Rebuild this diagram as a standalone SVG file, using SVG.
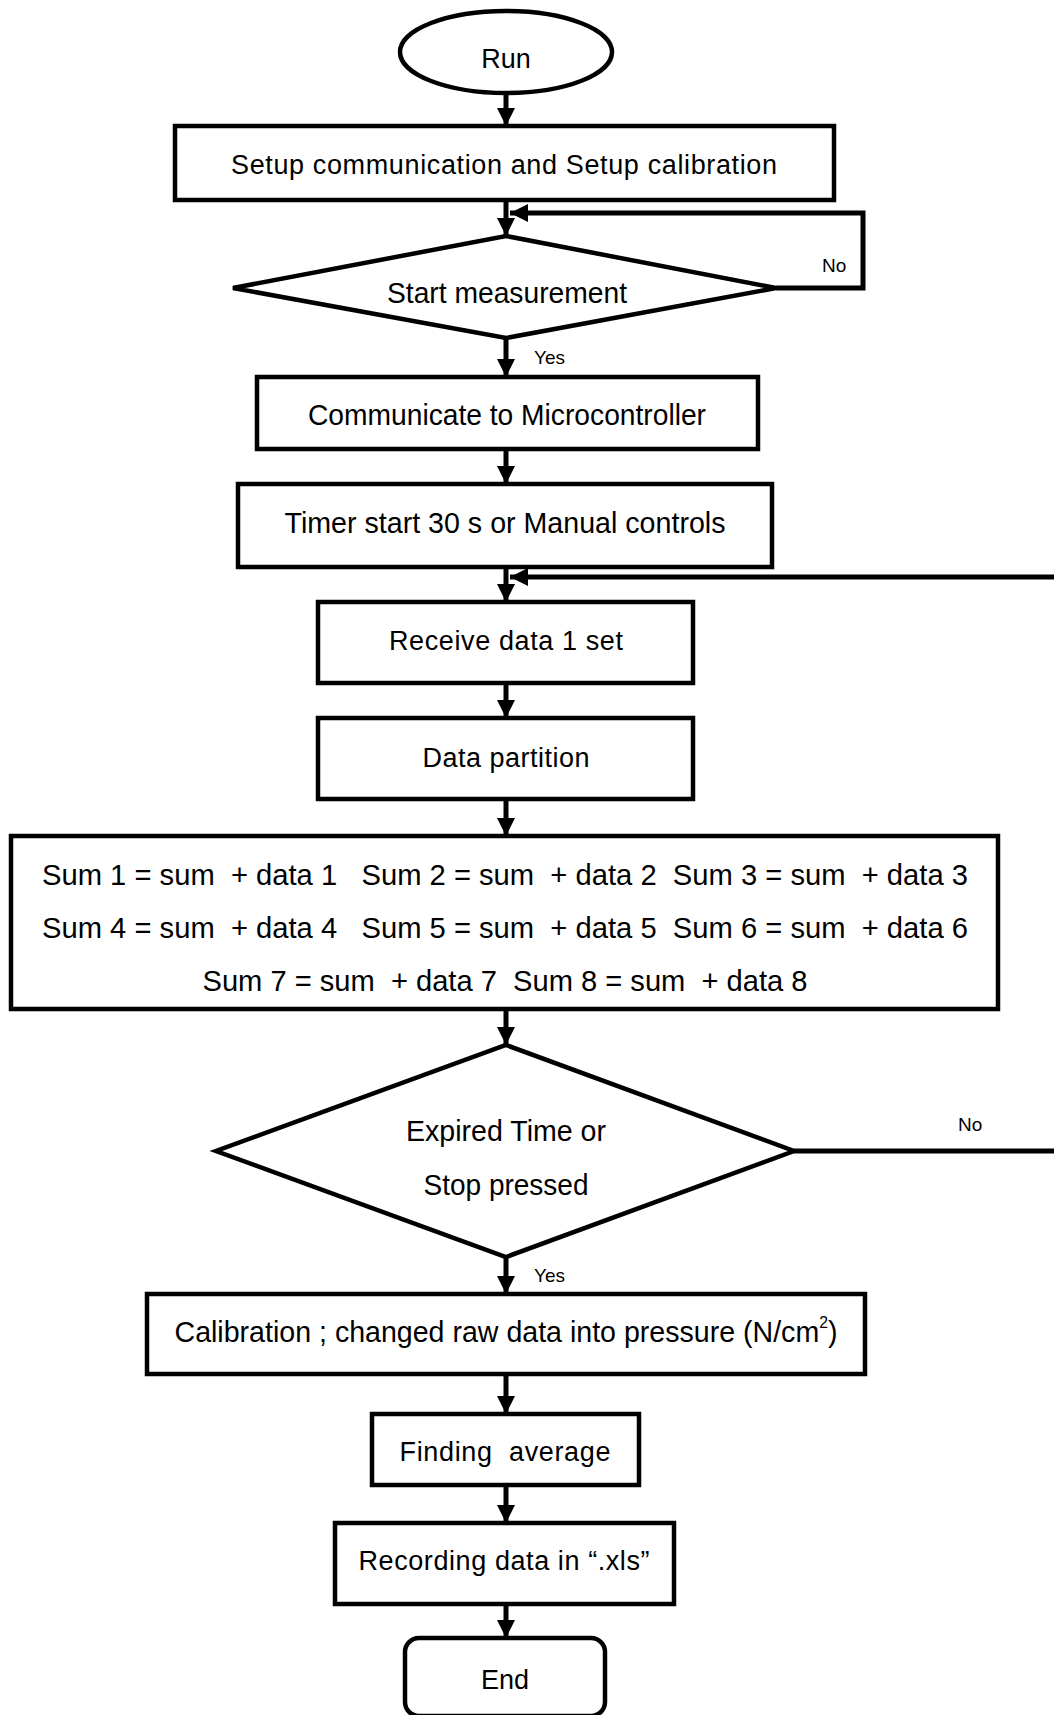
<svg xmlns="http://www.w3.org/2000/svg" width="1054" height="1715" viewBox="0 0 1054 1715">
  <style>
    .shape { fill: #fff; stroke: #000; stroke-width: 4.5; }
    .wire { fill: none; stroke: #000; stroke-width: 5; }
    .t { font-family: "Liberation Sans", Arial, sans-serif; font-size: 27px; fill: #000; text-anchor: middle; }
    .n { font-family: "Liberation Sans Narrow", "Arial Narrow", "Liberation Sans", sans-serif; font-stretch: condensed; font-size: 29px; fill: #000; text-anchor: middle; }
    .lbl { font-family: "Liberation Sans Narrow", "Arial Narrow", "Liberation Sans", sans-serif; font-stretch: condensed; font-size: 19px; fill: #000; }
  </style>
  <defs>
    <marker id="head" markerUnits="userSpaceOnUse" markerWidth="18" markerHeight="18" viewBox="0 0 18 18" refX="18" refY="9" orient="auto">
      <path d="M0,0 L18,9 L0,18 Z" fill="#000"/>
    </marker>
  </defs>
  <rect width="1054" height="1715" fill="#fff"/>

  <!-- connectors -->
  <g id="connectors">
    <line class="wire" x1="506" y1="92" x2="506" y2="126" marker-end="url(#head)"/>
    <line class="wire" x1="506" y1="200" x2="506" y2="236" marker-end="url(#head)"/>
    <polyline class="wire" points="776,288 863,288 863,213 510,213" marker-end="url(#head)"/>
    <line class="wire" x1="506" y1="338" x2="506" y2="377" marker-end="url(#head)"/>
    <line class="wire" x1="506" y1="449" x2="506" y2="484" marker-end="url(#head)"/>
    <line class="wire" x1="506" y1="567" x2="506" y2="602" marker-end="url(#head)"/>
    <line class="wire" x1="1054" y1="577" x2="510" y2="577" marker-end="url(#head)"/>
    <line class="wire" x1="506" y1="683" x2="506" y2="718" marker-end="url(#head)"/>
    <line class="wire" x1="506" y1="799" x2="506" y2="836" marker-end="url(#head)"/>
    <line class="wire" x1="506" y1="1009" x2="506" y2="1045" marker-end="url(#head)"/>
    <line class="wire" x1="794" y1="1151" x2="1054" y2="1151"/>
    <line class="wire" x1="506" y1="1257" x2="506" y2="1294" marker-end="url(#head)"/>
    <line class="wire" x1="506" y1="1374" x2="506" y2="1414" marker-end="url(#head)"/>
    <line class="wire" x1="506" y1="1485" x2="506" y2="1523" marker-end="url(#head)"/>
    <line class="wire" x1="506" y1="1604" x2="506" y2="1638" marker-end="url(#head)"/>
    <text class="lbl" x="822" y="272">No</text>
    <text class="lbl" x="534" y="364">Yes</text>
    <text class="lbl" x="958" y="1131">No</text>
    <text class="lbl" x="534" y="1282">Yes</text>
  </g>

  <g id="run">
    <ellipse class="shape" cx="506" cy="52" rx="106" ry="41"/>
    <text class="t" x="506" y="68">Run</text>
  </g>

  <g id="setup">
    <rect class="shape" x="175" y="126" width="659" height="74"/>
    <text class="t" x="504" y="174" textLength="546" lengthAdjust="spacing">Setup communication and Setup calibration</text>
  </g>

  <g id="start-measurement">
    <polygon class="shape" points="506,236 776,288 506,338 233,288"/>
    <text class="n" x="507" y="303" textLength="240" lengthAdjust="spacingAndGlyphs">Start measurement</text>
  </g>

  <g id="communicate">
    <rect class="shape" x="257" y="377" width="501" height="72"/>
    <text class="n" x="507" y="425" textLength="398" lengthAdjust="spacingAndGlyphs">Communicate to Microcontroller</text>
  </g>

  <g id="timer">
    <rect class="shape" x="238" y="484" width="534" height="83"/>
    <text class="n" x="505" y="533" textLength="441" lengthAdjust="spacingAndGlyphs">Timer start 30 s or Manual controls</text>
  </g>

  <g id="receive">
    <rect class="shape" x="318" y="602" width="375" height="81"/>
    <text class="t" x="506" y="650" textLength="234" lengthAdjust="spacing">Receive data 1 set</text>
  </g>

  <g id="partition">
    <rect class="shape" x="318" y="718" width="375" height="81"/>
    <text class="t" x="506" y="767" textLength="167" lengthAdjust="spacing">Data partition</text>
  </g>

  <g id="sums">
    <rect class="shape" x="11" y="836" width="987" height="173"/>
    <text class="n" x="505" y="885" textLength="926" lengthAdjust="spacingAndGlyphs" xml:space="preserve">Sum 1 = sum  + data 1   Sum 2 = sum  + data 2  Sum 3 = sum  + data 3</text>
    <text class="n" x="505" y="938" textLength="926" lengthAdjust="spacingAndGlyphs" xml:space="preserve">Sum 4 = sum  + data 4   Sum 5 = sum  + data 5  Sum 6 = sum  + data 6</text>
    <text class="n" x="505" y="991" textLength="605" lengthAdjust="spacingAndGlyphs" xml:space="preserve">Sum 7 = sum  + data 7  Sum 8 = sum  + data 8</text>
  </g>

  <g id="expired">
    <polygon class="shape" points="506,1045 794,1151 506,1257 216,1151"/>
    <text class="n" x="506" y="1141" textLength="200" lengthAdjust="spacingAndGlyphs">Expired Time or</text>
    <text class="n" x="506" y="1195" textLength="165" lengthAdjust="spacingAndGlyphs">Stop pressed</text>
  </g>

  <g id="calibration">
    <rect class="shape" x="147" y="1294" width="718" height="80"/>
    <text class="n" x="506" y="1342" textLength="663" lengthAdjust="spacingAndGlyphs">Calibration ; changed raw data into pressure (N/cm<tspan font-size="16" dy="-14">2</tspan><tspan dy="14">)</tspan></text>
  </g>

  <g id="average">
    <rect class="shape" x="372" y="1414" width="267" height="71"/>
    <text class="t" x="505" y="1461" textLength="211" lengthAdjust="spacing" xml:space="preserve">Finding  average</text>
  </g>

  <g id="recording">
    <rect class="shape" x="335" y="1523" width="339" height="81"/>
    <text class="t" x="504" y="1570" textLength="291" lengthAdjust="spacing">Recording data in “.xls”</text>
  </g>

  <g id="end">
    <rect class="shape" x="405" y="1638" width="200" height="78" rx="14" ry="14"/>
    <text class="t" x="505" y="1689">End</text>
  </g>
</svg>
